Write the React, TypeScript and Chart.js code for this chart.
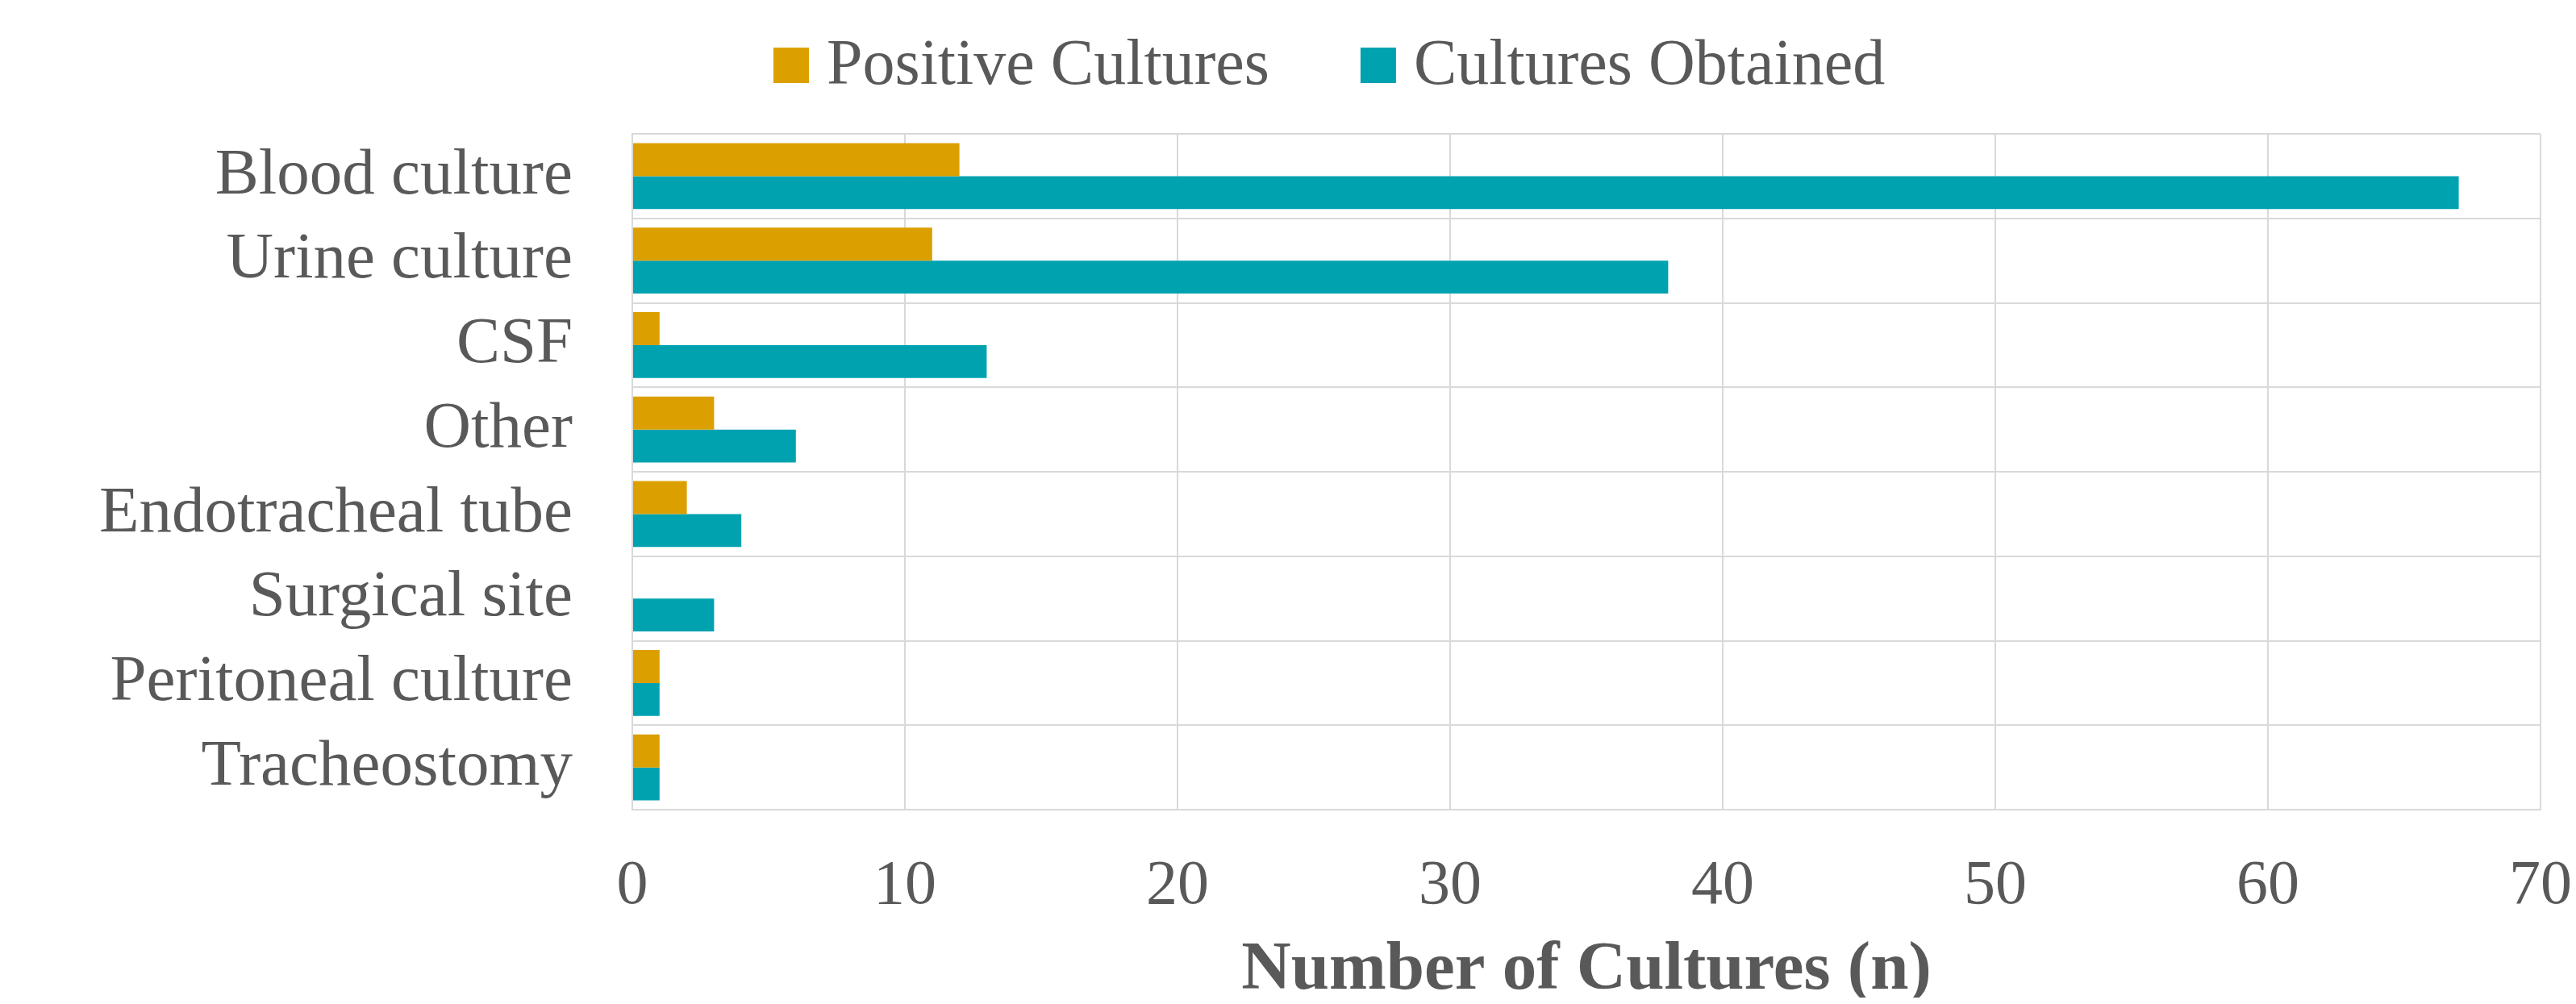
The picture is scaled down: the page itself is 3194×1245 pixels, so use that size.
import React, { useEffect, useRef } from "react";
import { Chart, registerables } from "chart.js";

Chart.register(...registerables);

const categories = [
  "Blood culture",
  "Urine culture",
  "CSF",
  "Other",
  "Endotracheal tube",
  "Surgical site",
  "Peritoneal culture",
  "Tracheostomy",
];
const positiveCultures = [12, 11, 1, 3, 2, 0, 1, 1];
const culturesObtained = [67, 38, 13, 6, 4, 3, 1, 1];
const seriesNames = ["Positive Cultures", "Cultures Obtained"];
const xTickMin = 0;
const xTickMax = 70;
const xTickStep = 10;
const xAxisTitle = "Number of Cultures (n)";

const ORANGE = "#DBA000";
const TEAL = "#00A2B0";
const TEXT = "#595959";
const GRID = "#D9D9D9";
const FONT = "'Liberation Serif', 'Times New Roman', serif";

const W = 3178;
const H = 1229;

const legendPlugin = {
  id: "customLegend",
  afterDraw(chart: any) {
    const ctx = chart.ctx as CanvasRenderingContext2D;
    const colors = [ORANGE, TEAL];
    const box = 44;
    const gapBoxText = 22;
    const gapItems = 113;
    const baseline = 96;
    let x = 951;
    ctx.save();
    ctx.font = `80px ${FONT}`;
    ctx.textBaseline = "alphabetic";
    ctx.textAlign = "left";
    seriesNames.forEach((name, i) => {
      ctx.fillStyle = colors[i];
      ctx.fillRect(x, baseline - box - 1, box, box);
      x += box + gapBoxText;
      ctx.fillStyle = TEXT;
      ctx.fillText(name, x, baseline);
      x += ctx.measureText(name).width + gapItems;
    });
    ctx.restore();
  },
};

export default function App() {
  const ref = useRef<HTMLCanvasElement | null>(null);

  useEffect(() => {
    if (!ref.current) return;
    const chart = new Chart(ref.current, {
      type: "bar",
      data: {
        labels: categories,
        datasets: [
          {
            label: seriesNames[0],
            data: positiveCultures,
            backgroundColor: ORANGE,
            borderWidth: 0,
            categoryPercentage: 0.78,
            barPercentage: 1.0,
          },
          {
            label: seriesNames[1],
            data: culturesObtained,
            backgroundColor: TEAL,
            borderWidth: 0,
            categoryPercentage: 0.78,
            barPercentage: 1.0,
          },
        ],
      },
      options: {
        indexAxis: "y",
        responsive: false,
        animation: false,
        devicePixelRatio: 1,
        layout: { padding: { top: 158, left: 0, right: 36, bottom: 0 } },
        plugins: {
          legend: { display: false },
          title: { display: false },
          tooltip: { enabled: false },
        },
        scales: {
          x: {
            type: "linear",
            position: "bottom",
            min: xTickMin,
            max: xTickMax,
            ticks: {
              stepSize: xTickStep,
              color: TEXT,
              padding: 57,
              font: { family: FONT, size: 78, lineHeight: 1 },
            },
            grid: { color: GRID, lineWidth: 2, drawTicks: false },
            border: { color: GRID, width: 2 },
            title: {
              display: true,
              text: xAxisTitle,
              color: TEXT,
              padding: 0,
              font: { family: FONT, size: 85, weight: "bold", lineHeight: 0.78 },
            },
            afterFit(scale: any) {
              scale.height = 233;
              scale.paddingLeft = 0;
              scale.paddingRight = 0;
            },
          },
          y: {
            type: "category",
            ticks: {
              color: TEXT,
              padding: 74,
              font: { family: FONT, size: 81, lineHeight: 1 },
            },
            grid: { color: GRID, lineWidth: 2, drawTicks: false, offset: true },
            border: { color: GRID, width: 2 },
            afterFit(scale: any) {
              scale.width = 776;
              scale.paddingTop = 0;
              scale.paddingBottom = 0;
            },
          },
        },
      },
      plugins: [legendPlugin],
    } as any);
    return () => chart.destroy();
  }, []);

  return (
    <div style={{ width: W, height: H }}>
      <canvas ref={ref} width={W} height={H} style={{ display: "block", width: W, height: H }} />
    </div>
  );
}
